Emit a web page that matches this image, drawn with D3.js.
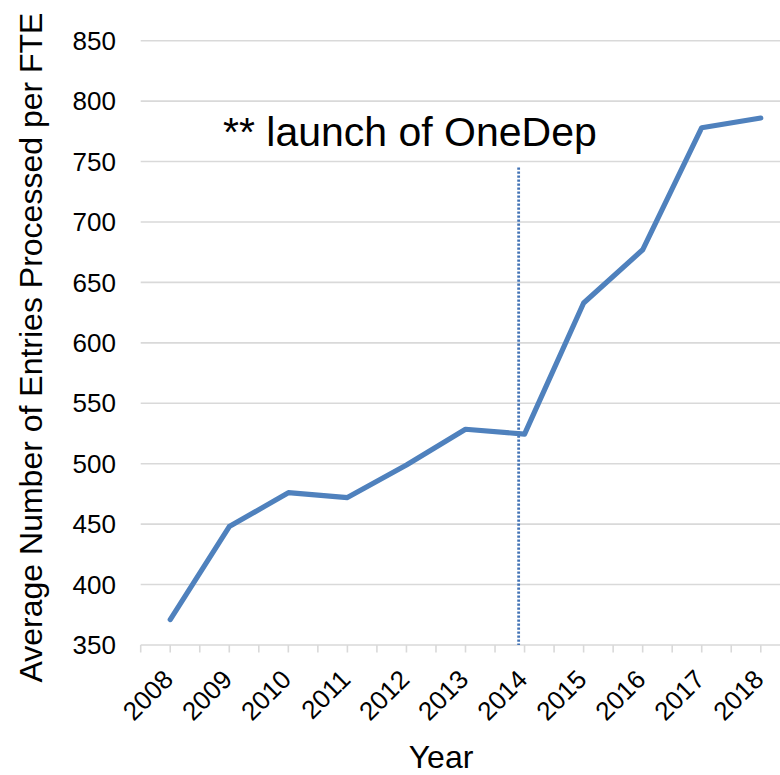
<!DOCTYPE html>
<html>
<head>
<meta charset="utf-8">
<script src="https://cdn.jsdelivr.net/npm/d3@7"></script>
<style>
  html, body { margin: 0; padding: 0; background: #ffffff; }
  svg { display: block; font-family: "Liberation Sans", Arial, Helvetica, sans-serif; }
</style>
</head>
<body>
<svg id="chart" width="780" height="775"></svg>
<script>
// Yearly throughput of entries processed per full-time equivalent
const years = [2008, 2009, 2010, 2011, 2012, 2013, 2014, 2015, 2016, 2017, 2018];
const entriesPerFTE = [371, 448, 476, 472, 499, 528.5, 524.5, 633, 677, 778, 786];
const yTickValues = [350, 400, 450, 500, 550, 600, 650, 700, 750, 800, 850];

// OneDep launch marker (fractional year) and annotation
const launchYear = 2013.9;
const launchTop = 745;
const annotationText = "** launch of OneDep";

const svg = d3.select("#chart");

// Scales: one category step per year, with half-year tick spacing
const x = d3.scaleLinear().domain([2007.5, 2018.5]).range([140.7, 790.3]);
const y = d3.scaleLinear().domain([350, 850]).range([645, 40.7]);

// Horizontal gridlines
svg.append("g")
  .selectAll("line")
  .data(yTickValues.slice(1))
  .join("line")
  .attr("x1", x(2007.5)).attr("x2", 780)
  .attr("y1", d => y(d)).attr("y2", d => y(d))
  .attr("stroke", "#d9d9d9").attr("stroke-width", 1.6);

// Y axis labels
svg.append("g")
  .selectAll("text")
  .data(yTickValues)
  .join("text")
  .attr("x", 116)
  .attr("y", d => y(d))
  .attr("dy", "0.35em")
  .attr("text-anchor", "end")
  .attr("font-size", 26)
  .attr("fill", "#000")
  .text(d => d);

// X axis baseline and tick marks (category edges and centres)
svg.append("line")
  .attr("x1", x(2007.5)).attr("x2", 780)
  .attr("y1", y(350)).attr("y2", y(350))
  .attr("stroke", "#d9d9d9").attr("stroke-width", 1.6);

const tickPositions = d3.range(2007.5, 2018.51, 0.5);
svg.append("g")
  .selectAll("line")
  .data(tickPositions)
  .join("line")
  .attr("x1", d => x(d)).attr("x2", d => x(d))
  .attr("y1", y(350)).attr("y2", y(350) + 7.5)
  .attr("stroke", "#d9d9d9").attr("stroke-width", 1.6);

// X axis labels, rotated
svg.append("g")
  .selectAll("text")
  .data(years)
  .join("text")
  .attr("transform", d => `translate(${x(d) + 4.5},${y(350) + 36}) rotate(-45)`)
  .attr("text-anchor", "end")
  .attr("font-size", 26)
  .attr("fill", "#000")
  .text(d => d);

// Axis titles
svg.append("text")
  .attr("transform", `translate(42,${(13 + 682) / 2}) rotate(-90)`)
  .attr("text-anchor", "middle")
  .attr("font-size", 32)
  .attr("fill", "#000")
  .text("Average Number of Entries Processed per FTE");

svg.append("text")
  .attr("x", 441)
  .attr("y", 768)
  .attr("text-anchor", "middle")
  .attr("font-size", 32)
  .attr("fill", "#000")
  .text("Year");

// Launch marker: soft shadow under a dotted line
const defs = svg.append("defs");
defs.append("filter").attr("id", "soft")
  .attr("x", "-50%").attr("y", "-5%").attr("width", "200%").attr("height", "110%")
  .append("feGaussianBlur").attr("stdDeviation", 1.5);

svg.append("line")
  .attr("x1", x(launchYear)).attr("x2", x(launchYear))
  .attr("y1", y(launchTop)).attr("y2", y(350) + 3)
  .attr("stroke", "#7f7f7f").attr("stroke-width", 4)
  .attr("opacity", 0.5)
  .attr("filter", "url(#soft)");

svg.append("line")
  .attr("x1", x(launchYear)).attr("x2", x(launchYear))
  .attr("y1", y(launchTop)).attr("y2", y(350))
  .attr("stroke", "#4273b5").attr("stroke-width", 2.8)
  .attr("stroke-dasharray", "2.2,1.8");

// Annotation text
svg.append("text")
  .attr("x", 223)
  .attr("y", 146)
  .attr("font-size", 41)
  .attr("fill", "#000")
  .text(annotationText);

// Data line
const line = d3.line()
  .x((d, i) => x(years[i]))
  .y(d => y(d));

svg.append("path")
  .datum(entriesPerFTE)
  .attr("d", line)
  .attr("fill", "none")
  .attr("stroke", "#4f81bd")
  .attr("stroke-width", 5.2)
  .attr("stroke-linejoin", "round")
  .attr("stroke-linecap", "round");
</script>
</body>
</html>
